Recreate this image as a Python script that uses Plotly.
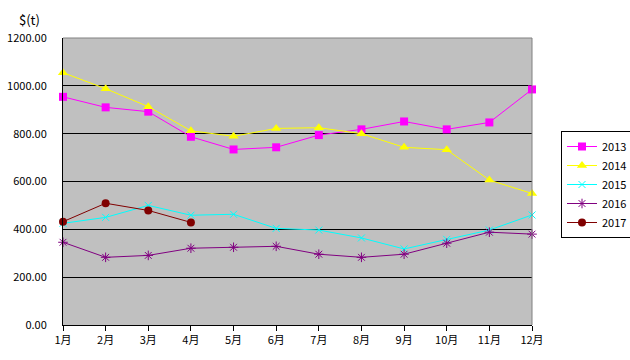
import plotly.graph_objects as go

months = ["1月", "2月", "3月", "4月", "5月", "6月", "7月", "8月", "9月", "10月", "11月", "12月"]
y2013 = [954, 910, 892, 787, 734, 743, 794, 818, 851, 818, 847, 985]
y2014 = [1055, 988, 913, 812, 789, 822, 825, 800, 743, 733, 606, 550]
y2015 = [425, 450, 500, 459, 463, 404, 397, 364, 318, 358, 397, 460]
y2016 = [346, 283, 291, 321, 325, 329, 296, 283, 296, 342, 388, 380]
y2017 = [432, 509, 479, 429]
y_ticks = [0, 200, 400, 600, 800, 1000, 1200]

FONT = "Noto Sans CJK JP, Noto Sans, sans-serif"

series = [
    ("2013", y2013, "#FF00FF", dict(symbol="square", size=8, color="#FF00FF")),
    ("2014", y2014, "#FFFF00", dict(symbol="triangle-up", size=9, color="#FFFF00")),
    ("2015", y2015, "#00FFFF", dict(symbol="x-thin-open", size=7, color="#00FFFF", line=dict(color="#00FFFF", width=1))),
    ("2016", y2016, "#800080", dict(symbol="asterisk-open", size=8, color="#800080", line=dict(color="#800080", width=1))),
    ("2017", y2017, "#800000", dict(symbol="circle", size=8, color="#800000")),
]

fig = go.Figure()
for name, vals, col, mk in series:
    fig.add_trace(go.Scatter(
        x=months[:len(vals)], y=vals, name=name, mode="lines+markers",
        line=dict(color=col, width=1), marker=mk, cliponaxis=False,
    ))

fig.update_layout(
    width=630, height=360,
    margin=dict(l=63, r=98, t=38, b=35),
    paper_bgcolor="white", plot_bgcolor="#C0C0C0",
    font=dict(family=FONT, size=11, color="black"),
    showlegend=True,
    legend=dict(xref="container", yref="container",
                x=561 / 630, y=(360 - 131) / 360, xanchor="left", yanchor="top",
                bgcolor="white", bordercolor="black", borderwidth=1,
                font=dict(size=11), tracegroupgap=0, itemwidth=30),
    xaxis=dict(
        type="category", range=[0, 11], showgrid=False, automargin=False,
        showline=True, linecolor="black", linewidth=1, mirror=False,
        ticks="outside", ticklen=5, tickcolor="black", zeroline=False,
        tickfont=dict(size=11),
    ),
    yaxis=dict(
        range=[0, 1200], tickvals=y_ticks, automargin=False,
        ticktext=[f"{v:.2f}" for v in y_ticks],
        showgrid=True, gridcolor="black", gridwidth=1,
        showline=True, linecolor="black", linewidth=1, zeroline=False,
        ticks="", ticklabelstandoff=13, tickfont=dict(size=11),
    ),
    annotations=[dict(text="$(t)", x=(17 - 63) / 469, y=(325 - 19) / 287,
                      xref="paper", yref="paper",
                      showarrow=False, xanchor="left", yanchor="middle",
                      font=dict(size=13))],
)
# gray border on top and right of plot area
fig.add_shape(type="line", xref="paper", yref="paper", x0=0, x1=1, y0=1, y1=1,
              line=dict(color="#808080", width=1))
fig.add_shape(type="line", xref="paper", yref="paper", x0=1, x1=1, y0=0, y1=1,
              line=dict(color="#808080", width=1))

fig.write_html("out.html", config={"displayModeBar": False},
               post_script="document.body.style.margin='0';")
